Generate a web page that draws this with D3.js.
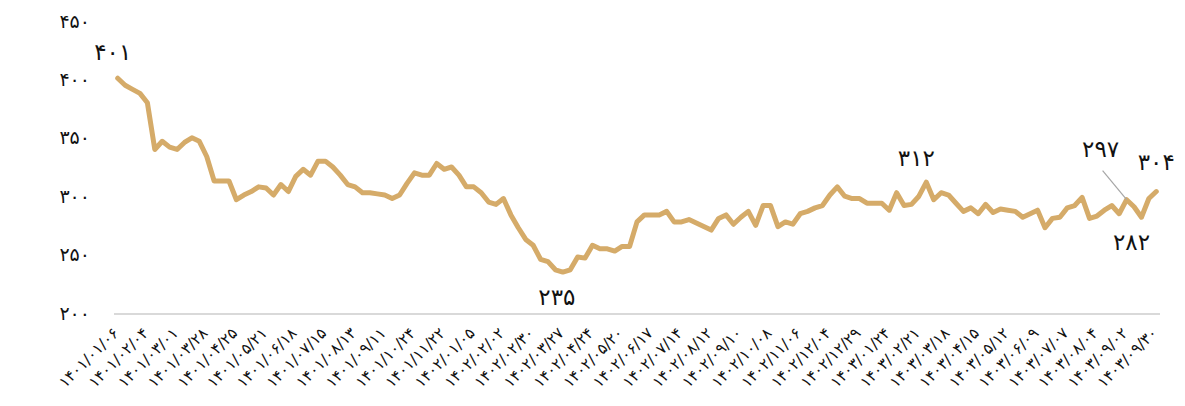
<!DOCTYPE html>
<html>
<head>
<meta charset="utf-8">
<script src="https://cdn.jsdelivr.net/npm/d3@7/dist/d3.min.js"></script>
<style>
  body { margin: 0; background: #fff; }
  svg { display: block; }
</style>
</head>
<body>
<svg id="chart" width="1185" height="406"></svg>
<script>
// Weekly price series
const prices = [
  401, 395, 391.5, 388, 380, 340, 347, 342, 340, 346,
  350, 347, 334, 313, 313, 313, 297, 301, 304, 308,
  307, 301, 310, 304, 317, 323, 318, 330, 330, 325,
  318, 310, 308, 303, 303, 302, 301, 298, 301, 311,
  320, 318, 318, 328, 323, 325, 318, 308, 308, 303,
  295, 293, 298, 284, 273, 263, 258, 246, 244, 237,
  235, 237, 248, 247, 258, 255, 255, 253, 257, 257,
  278, 284, 284, 284, 287, 278, 278, 280, 277, 274,
  271, 281, 284, 276, 282, 287, 275, 292, 292, 274,
  278, 276, 285, 287, 290, 292, 301, 308, 300, 298,
  298, 294, 294, 294, 288, 303, 292, 293, 300, 312,
  297, 303, 301, 294, 287, 290, 285, 293, 286, 289,
  288, 287, 282, 285, 288, 273, 281, 282, 290, 292,
  299, 281, 283, 288, 292, 285, 297, 291, 282, 298,
  304
];

// Dates shown under every fourth point
const tickDates = [
  "۱۴۰۱/۰۱/۰۶", "۱۴۰۱/۰۲/۰۴", "۱۴۰۱/۰۳/۰۱", "۱۴۰۱/۰۳/۲۸", "۱۴۰۱/۰۴/۲۵",
  "۱۴۰۱/۰۵/۲۱", "۱۴۰۱/۰۶/۱۸", "۱۴۰۱/۰۷/۱۵", "۱۴۰۱/۰۸/۱۳", "۱۴۰۱/۰۹/۱۱",
  "۱۴۰۱/۱۰/۲۴", "۱۴۰۱/۱۱/۲۲", "۱۴۰۲/۰۱/۰۵", "۱۴۰۲/۰۲/۰۲", "۱۴۰۲/۰۲/۳۰",
  "۱۴۰۲/۰۳/۲۷", "۱۴۰۲/۰۴/۲۴", "۱۴۰۲/۰۵/۲۰", "۱۴۰۲/۰۶/۱۷", "۱۴۰۲/۰۷/۱۴",
  "۱۴۰۲/۰۸/۱۲", "۱۴۰۲/۰۹/۱۰", "۱۴۰۲/۱۰/۰۸", "۱۴۰۲/۱۱/۰۶", "۱۴۰۲/۱۲/۰۴",
  "۱۴۰۲/۱۲/۲۹", "۱۴۰۳/۰۱/۲۴", "۱۴۰۳/۰۲/۲۱", "۱۴۰۳/۰۳/۱۸", "۱۴۰۳/۰۴/۱۵",
  "۱۴۰۳/۰۵/۱۲", "۱۴۰۳/۰۶/۰۹", "۱۴۰۳/۰۷/۰۷", "۱۴۰۳/۰۸/۰۴", "۱۴۰۳/۰۹/۰۲",
  "۱۴۰۳/۰۹/۳۰"
];
const tickStep = 4;

const yTicks = [200, 250, 300, 350, 400, 450];

// Points that carry a value label
const labelledPoints = [0, 60, 109, 136, 138, 140];

const toFa = s => String(s).replace(/\d/g, d => "۰۱۲۳۴۵۶۷۸۹"[d]);

const svg = d3.select("#chart");
const FONT = "'DejaVu Sans', sans-serif";

const x = d3.scaleBand()
  .domain(d3.range(prices.length))
  .range([114, 1160]);
const cx = i => x(i) + x.bandwidth() / 2;

const y = d3.scaleLinear()
  .domain([200, 450])
  .range([313, 21]);

// y axis: labels only
const yAxis = d3.axisLeft(y)
  .tickValues(yTicks)
  .tickSize(0)
  .tickPadding(0)
  .tickFormat(toFa);

const gy = svg.append("g")
  .attr("transform", "translate(90,0)")
  .call(yAxis);
gy.select(".domain").remove();
gy.selectAll("text")
  .attr("font-family", FONT)
  .attr("font-size", 19)
  .attr("letter-spacing", 3)
  .attr("fill", "#111")
  .attr("direction", "ltr");

// x axis baseline
svg.append("line")
  .attr("x1", 114).attr("x2", 1160)
  .attr("y1", y(200) + 1).attr("y2", y(200) + 1)
  .attr("stroke", "#d9d9d9")
  .attr("stroke-width", 2);

// x axis date labels, rotated
const tickIdx = tickDates.map((_, k) => k * tickStep);
svg.append("g")
  .selectAll("text")
  .data(tickIdx)
  .join("text")
  .attr("transform", i => `translate(${cx(i) + 2},334) rotate(-45)`)
  .attr("text-anchor", "end")
  .attr("direction", "ltr")
  .attr("font-family", FONT)
  .attr("font-size", 15.5)
  .attr("letter-spacing", 2.5)
  .attr("fill", "#111")
  .text((i, k) => tickDates[k]);

// price line
const line = d3.line()
  .x((d, i) => cx(i))
  .y(d => y(d));

svg.append("path")
  .datum(prices)
  .attr("d", line)
  .attr("fill", "none")
  .attr("stroke", "#D5AB69")
  .attr("stroke-width", 5)
  .attr("stroke-linejoin", "round")
  .attr("stroke-linecap", "round");

// value labels
const labelOffset = {
  0: [-5, -25],
  60: [-6, 26],
  109: [-10, -23],
  136: [-26, -49],
  138: [-10, 26],
  140: [0, -28]
};

const lbl = svg.append("g");
labelledPoints.forEach(i => {
  const px = cx(i), py = y(prices[i]);
  const [dx, dy] = labelOffset[i];
  if (i === 136) {
    lbl.append("line")
      .attr("x1", px + dx + 2).attr("y1", py + dy + 20)
      .attr("x2", px).attr("y2", py)
      .attr("stroke", "#a6a6a6")
      .attr("stroke-width", 1.2);
  }
  lbl.append("text")
    .attr("x", px + dx)
    .attr("y", py + dy)
    .attr("text-anchor", "middle")
    .attr("dominant-baseline", "middle")
    .attr("direction", "ltr")
    .attr("font-family", FONT)
    .attr("font-size", 23)
    .attr("letter-spacing", 6)
    .attr("fill", "#111")
    .text(toFa(prices[i]));
});
</script>
</body>
</html>
